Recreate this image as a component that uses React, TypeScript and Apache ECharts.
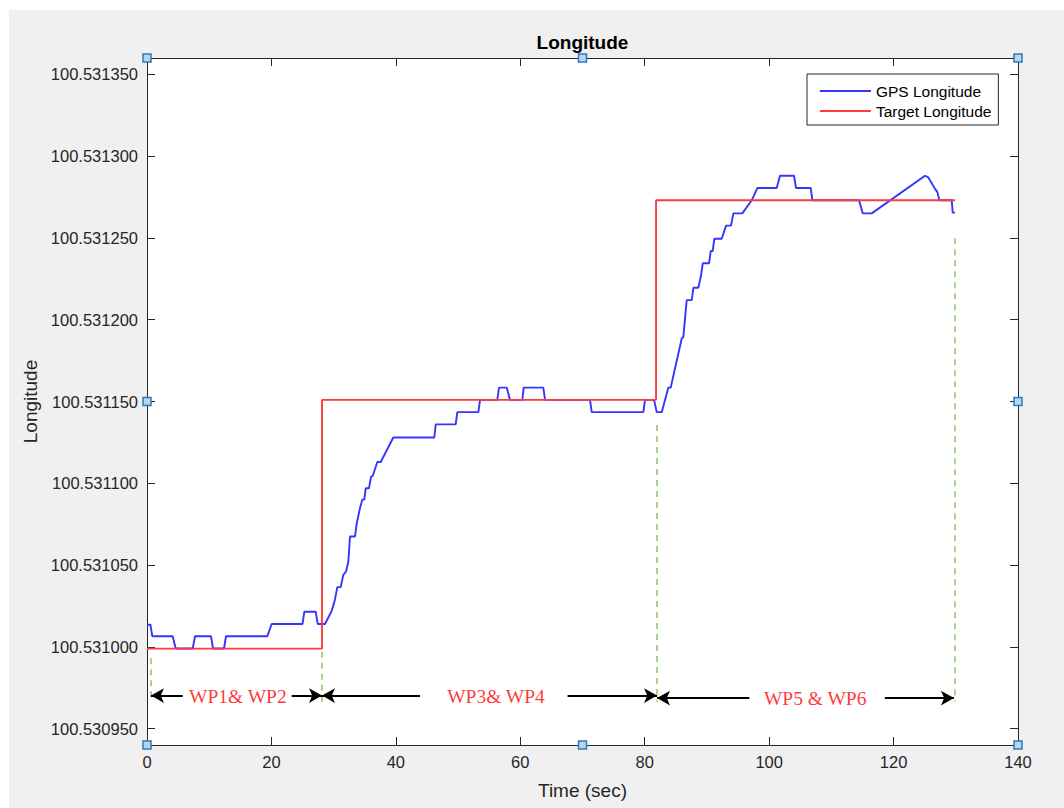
import React, { useEffect, useRef } from "react";
import * as echarts from "echarts";

// ---- data ----
const gpsTime = [
  0, 0.55, 0.85, 4.13, 4.61, 7.35, 7.72, 10.29, 10.61, 12.38, 12.7, 19.34, 20.04,
  25.0, 25.29, 27.12, 27.44, 28.61, 29.69, 30.22, 30.59, 31.14, 31.55, 31.99, 32.36,
  32.63, 33.43, 33.71, 34.24, 34.61, 34.93, 35.16, 35.69, 36.01, 36.28, 37.02, 37.57,
  39.59, 46.18, 46.41, 49.62, 49.88, 53.26, 53.53, 56.31, 56.58, 57.82, 58.35, 60.33,
  60.55, 63.7, 63.98, 71.21, 71.48, 79.78, 80.05, 81.5, 81.93, 82.74, 83.8, 84.18,
  85.95, 86.21, 86.75, 87.56, 87.82, 88.62, 89.05, 89.33, 90.34, 90.61, 90.93, 91.19,
  92.38, 93.07, 93.88, 94.25, 95.69, 97.2, 98.1, 101.22, 101.75, 104.0, 104.32, 106.69,
  106.95, 114.45, 115.05, 116.49, 125.06, 125.59, 126.67, 127.04, 127.36, 129.35,
  129.51, 129.88,
];
const gpsLon = [
  100.5310135, 100.5310135, 100.5310065, 100.5310065, 100.530999, 100.530999, 100.5310065,
  100.5310065, 100.530999, 100.530999, 100.5310065, 100.5310065, 100.531014,
  100.531014, 100.5310215, 100.5310215, 100.531014, 100.531014, 100.531022, 100.531029,
  100.5310365, 100.5310365, 100.531044, 100.531046, 100.531052,
  100.5310675, 100.5310675, 100.5310755, 100.531085, 100.53109, 100.53109, 100.531097,
  100.531097, 100.531104, 100.5311045, 100.531113, 100.531113,
  100.531128, 100.531128, 100.531136, 100.531136, 100.5311435, 100.5311435, 100.531151,
  100.531151, 100.5311585, 100.5311585, 100.531151, 100.531151,
  100.5311585, 100.5311585, 100.531151, 100.531151, 100.5311435, 100.5311435, 100.531151,
  100.531151, 100.5311435, 100.5311435, 100.5311585, 100.5311585,
  100.5311885, 100.5311895, 100.531212, 100.531212, 100.5312195, 100.5312195, 100.531227,
  100.5312345, 100.5312345, 100.531242, 100.531242, 100.5312495,
  100.5312495, 100.5312575, 100.5312575, 100.531265, 100.531265, 100.531273, 100.5312805,
  100.5312805, 100.531288, 100.531288, 100.5312805, 100.5312805,
  100.531273, 100.531273, 100.531265, 100.531265, 100.531288, 100.531287, 100.53128,
  100.531278, 100.531273, 100.531273,
  100.5312655, 100.5312655,
];
const targetTime = [0, 28.13, 28.13, 81.82, 81.82, 129.9];
const targetLon = [100.5309989, 100.5309989, 100.531151, 100.531151, 100.531273, 100.531273];

const yTicks = [
  100.53095, 100.531, 100.53105, 100.5311, 100.53115, 100.5312, 100.53125, 100.5313, 100.53135,
];
const yMin = 100.53094;
const yMax = 100.53136;

// waypoint markers (time, top of dashed line)
const wpTime = [0.64, 28.13, 81.98, 129.9];
const wpTop = [100.530993, 100.530997, 100.5311356, 100.5312498];
const wpBottom = 100.5309665;

// arrow segments: start, end, which end has the head, level
const arrowStart = [0.64, 23.26, 28.13, 67.6, 81.98, 118.6];
const arrowEnd = [5.73, 28.13, 43.88, 81.98, 96.82, 129.7];
const arrowHead = ["start", "end", "start", "end", "start", "end"];
const arrowLevel = [100.5309702, 100.5309702, 100.5309702, 100.5309702, 100.5309687, 100.5309687];

const wpLabels = ["WP1& WP2", "WP3& WP4", "WP5 & WP6"];
const wpLabelTime = [14.6, 56.1, 107.4];
const wpLabelLevel = [100.5309696, 100.5309696, 100.5309684];

// ---- layout ----
const G = { l: 147, t: 58, r: 1018, b: 745 };
const W = 1064;
const H = 808;

export default function App() {
  const ref = useRef<HTMLDivElement>(null);
  useEffect(() => {
    if (!ref.current) return;
    const chart = echarts.init(ref.current, null, { renderer: "svg" });
    const font = "'Liberation Sans', Arial, Helvetica, sans-serif";
    const axisColor = "#262626";

    const hx = [G.l, (G.l + G.r) / 2, G.r];
    const hy = [G.t, (G.t + G.b) / 2, G.b];
    const handles: any[] = [];
    hx.forEach((x, i) =>
      hy.forEach((y, j) => {
        if (i === 1 && j === 1) return;
        handles.push({
          type: "rect",
          shape: { x: x - 4, y: y - 4, width: 8, height: 8 },
          style: { fill: "#b8d5ee", stroke: "#2f78bb", lineWidth: 1.5 },
          z: 100,
          silent: true,
        });
      })
    );

    const xAxisCommon = {
      type: "value",
      min: 0,
      max: 140,
      interval: 20,
      axisLine: { show: true, onZero: false, lineStyle: { color: axisColor, width: 1 } },
      axisTick: { show: true, inside: true, length: 8, lineStyle: { color: axisColor } },
      splitLine: { show: false },
    };
    const yAxisCommon = {
      type: "value",
      min: yMin,
      max: yMax,
      axisLine: { show: true, onZero: false, lineStyle: { color: axisColor, width: 1 } },
      axisTick: { show: true, inside: true, length: 8, customValues: yTicks, lineStyle: { color: axisColor } },
      splitLine: { show: false },
    };

    chart.setOption({
      animation: false,
      backgroundColor: "transparent",
      grid: {
        left: G.l,
        top: G.t,
        right: W - G.r,
        bottom: H - G.b,
        show: true,
        backgroundColor: "#ffffff",
        borderWidth: 0,
      },
      legend: {
        orient: "vertical",
        left: 807,
        top: 74,
        data: ["GPS Longitude", "Target Longitude"],
        itemWidth: 51,
        itemHeight: 18,
        itemGap: 2,
        padding: [8, 7, 5, 12],
        backgroundColor: "#ffffff",
        borderColor: axisColor,
        borderWidth: 1,
        borderRadius: 0,
        itemStyle: { color: "rgba(0,0,0,0)", borderWidth: 0, opacity: 0 },
        lineStyle: { width: 1.8 },
        textStyle: { fontFamily: font, fontSize: 15.5, color: "#000", lineHeight: 18 },
        selectedMode: false,
      },
      xAxis: [
        {
          ...xAxisCommon,
          position: "bottom",
          axisLabel: {
            show: true,
            margin: 8,
            fontFamily: font,
            fontSize: 16.5,
            color: axisColor,
          },
          name: "Time (sec)",
          nameLocation: "middle",
          nameGap: 45,
          nameTextStyle: { fontFamily: font, fontSize: 19, color: axisColor, verticalAlign: "middle" },
        },
        { ...xAxisCommon, position: "top", axisLabel: { show: false } },
      ],
      yAxis: [
        {
          ...yAxisCommon,
          position: "left",
          axisLabel: {
            show: true,
            customValues: yTicks,
            margin: 9,
            fontFamily: font,
            fontSize: 16.5,
            color: axisColor,
            formatter: (v: number) => v.toFixed(6),
          },
          name: "Longitude",
          nameLocation: "middle",
          nameRotate: 90,
          nameGap: 114,
          nameTextStyle: { fontFamily: font, fontSize: 19, color: axisColor, verticalAlign: "middle" },
        },
        {
          ...yAxisCommon,
          position: "right",
          axisLabel: { show: false, customValues: yTicks },
        },
      ],
      graphic: [
        {
          type: "text",
          x: (G.l + G.r) / 2,
          y: 42,
          style: {
            text: "Longitude",
            fontFamily: font,
            fontSize: 19,
            fontWeight: "bold",
            fill: "#000",
            align: "center",
            verticalAlign: "middle",
          },
          silent: true,
        },
        ...handles,
      ],
      series: [
        {
          name: "GPS Longitude",
          type: "line",
          data: gpsTime.map((t, i) => [t, gpsLon[i]]),
          showSymbol: false,
          symbol: "none",
          lineStyle: { color: "#3535ff", width: 1.9 },
          itemStyle: { color: "#3535ff" },
          z: 3,
          silent: true,
        },
        {
          name: "Target Longitude",
          type: "line",
          data: targetTime.map((t, i) => [t, targetLon[i]]),
          showSymbol: false,
          symbol: "none",
          lineStyle: { color: "#ff3b3b", width: 1.9 },
          itemStyle: { color: "#ff3b3b" },
          z: 4,
          silent: true,
        },
        {
          name: "waypoints",
          type: "line",
          data: [],
          silent: true,
          z: 2,
          markLine: {
            silent: true,
            symbol: ["none", "none"],
            label: { show: false },
            lineStyle: { color: "#8cc56a", width: 1.5, type: [6, 5] },
            data: wpTime.map((t, i) => [{ coord: [t, wpTop[i]] }, { coord: [t, wpBottom] }]),
          },
        },
        {
          name: "arrows",
          type: "line",
          data: [],
          silent: true,
          z: 5,
          markLine: {
            silent: true,
            symbol: ["none", "none"],
            label: { show: false },
            lineStyle: { color: "#000000", width: 2, type: "solid" },
            data: arrowStart.map((s, i) => [
              {
                coord: [s, arrowLevel[i]],
                symbol: arrowHead[i] === "start" ? "arrow" : "none",
                symbolSize: [11, 13],
              },
              {
                coord: [arrowEnd[i], arrowLevel[i]],
                symbol: arrowHead[i] === "end" ? "arrow" : "none",
                symbolSize: [11, 13],
              },
            ]),
          },
        },
        {
          name: "labels",
          type: "scatter",
          data: wpLabelTime.map((t, i) => ({ value: [t, wpLabelLevel[i]], name: wpLabels[i] })),
          symbolSize: 1,
          itemStyle: { color: "rgba(0,0,0,0)" },
          silent: true,
          z: 6,
          label: {
            show: true,
            position: "inside",
            formatter: (p: any) => p.name,
            fontFamily: "'Liberation Serif', 'Times New Roman', serif",
            fontSize: 19.5,
            color: "#ff0000",
          },
        },
      ],
    });
    return () => chart.dispose();
  }, []);

  return (
    <div style={{ position: "fixed", left: 0, top: 0, width: W, height: H, background: "#ffffff" }}>
      <div style={{ position: "absolute", left: 9, top: 10, right: 0, bottom: 0, background: "#f0f0f0" }} />
      <div ref={ref} style={{ position: "absolute", left: 0, top: 0, width: W, height: H }} />
    </div>
  );
}
